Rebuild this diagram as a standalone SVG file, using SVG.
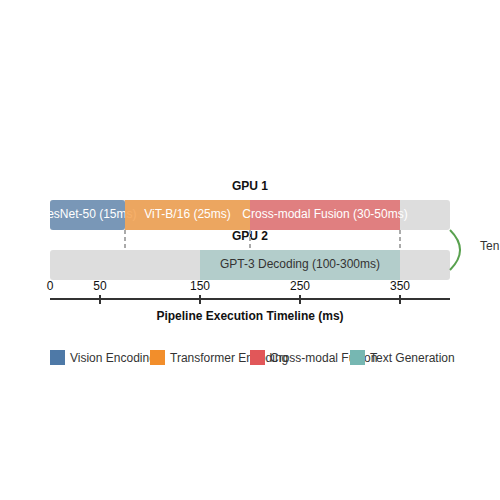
<svg xmlns="http://www.w3.org/2000/svg" width="500" height="500" viewBox="0 0 500 500">
<style>
text{font-family:"Liberation Sans",Arial,sans-serif;font-size:12px;fill:#333}
.bg{fill:#dddddd}
.bar{opacity:0.7}
.lbl{fill:#fff;text-anchor:middle;dominant-baseline:middle}
.lbl2{fill:#333;text-anchor:middle;dominant-baseline:middle}
.gpu{font-weight:bold;text-anchor:middle;fill:#111}
.dash{stroke:#aaa;stroke-width:2;stroke-dasharray:4,3;fill:none}
.tick{stroke:#333;stroke-width:2}
.tl{text-anchor:middle;fill:#111}
</style>
<rect width="500" height="500" fill="#fff"/>
<g id="gpu1-row">
<text class="gpu" x="250" y="190">GPU 1</text>
<rect class="bg" x="50" y="200" width="400" height="30" rx="3"/>
</g>
<g id="gpu2-row">
<text class="gpu" x="250" y="240">GPU 2</text>
<rect class="bg" x="50" y="250" width="400" height="30" rx="3"/>
</g>
<g id="resnet">
<rect class="bar" x="50" y="200" width="75" height="30" rx="3" fill="#4e79a7"/>
<text class="lbl" x="87.5" y="215">ResNet-50 (15ms)</text>
</g>
<g id="vit">
<rect class="bar" x="125" y="200" width="125" height="30" fill="#f28e2b"/>
<text class="lbl" x="187.5" y="215">ViT-B/16 (25ms)</text>
</g>
<g id="fusion">
<rect class="bar" x="250" y="200" width="150" height="30" fill="#e15759"/>
<text class="lbl" x="325" y="215">Cross-modal Fusion (30-50ms)</text>
</g>
<g id="gpt3">
<rect x="200" y="250" width="200" height="30" fill="#76b7b2" opacity="0.4"/>
<text class="lbl2" x="300" y="265">GPT-3 Decoding (100-300ms)</text>
</g>
<g id="connectors">
<line class="dash" x1="125" y1="230" x2="125" y2="250"/>
<line class="dash" x1="250" y1="230" x2="250" y2="250"/>
<line class="dash" x1="400" y1="230" x2="400" y2="250"/>
<path d="M450,230 Q470,250 450,270" fill="none" stroke="#59a14f" stroke-width="2"/>
</g>
<g id="tensor-label">
<text x="480" y="250" fill="#111">Ten</text>
</g>
<g id="axis">
<line x1="50" y1="299" x2="450" y2="299" stroke="#333" stroke-width="2"/>
<line class="tick" x1="100" y1="295" x2="100" y2="304"/>
<line class="tick" x1="200" y1="295" x2="200" y2="304"/>
<line class="tick" x1="300" y1="295" x2="300" y2="304"/>
<line class="tick" x1="400" y1="295" x2="400" y2="304"/>
<text class="tl" x="50" y="290">0</text>
<text class="tl" x="100" y="290">50</text>
<text class="tl" x="200" y="290">150</text>
<text class="tl" x="300" y="290">250</text>
<text class="tl" x="400" y="290">350</text>
<text class="gpu" x="250" y="320">Pipeline Execution Timeline (ms)</text>
</g>
<g id="legend">
<g id="legend-vision"><rect x="50" y="350" width="15" height="15" fill="#4e79a7"/><text x="70" y="362" fill="#111">Vision Encoding</text></g>
<g id="legend-transformer"><rect x="150" y="350" width="15" height="15" fill="#f28e2b"/><text x="170" y="362" fill="#111">Transformer Encoding</text></g>
<g id="legend-fusion"><rect x="250" y="350" width="15" height="15" fill="#e15759"/><text x="270" y="362" fill="#111">Cross-modal Fusion</text></g>
<g id="legend-text"><rect x="350" y="350" width="15" height="15" fill="#76b7b2"/><text x="370" y="362" fill="#111">Text Generation</text></g>
</g>
</svg>
